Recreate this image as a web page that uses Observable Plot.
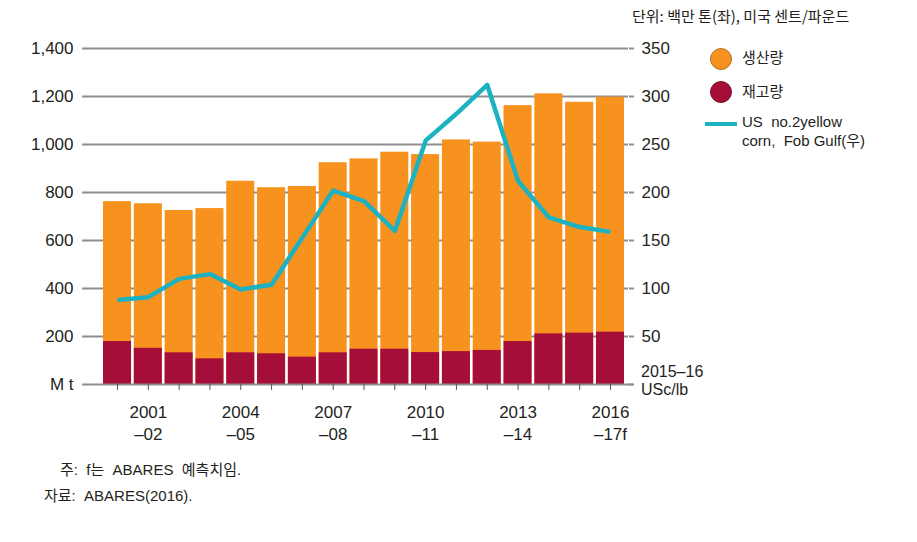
<!DOCTYPE html>
<html><head><meta charset="utf-8">
<script src="https://cdn.jsdelivr.net/npm/d3@7"></script>
<script src="https://cdn.jsdelivr.net/npm/@observablehq/plot@0.6"></script>
<style>
html,body{margin:0;padding:0;background:#fff;}
#root{position:relative;width:917px;height:542px;overflow:hidden;color:#231f20;
 font-family:"Liberation Sans","Noto Sans CJK KR",sans-serif;}
.t{position:absolute;white-space:nowrap;font-family:"Liberation Sans","Noto Sans CJK KR",sans-serif;font-size:14.5px;line-height:1;}
.k{font-family:"Noto Sans CJK KR","Liberation Sans",sans-serif;}
</style></head><body>
<div id="root"></div>
<script>
// ---- data ----
const years = ["2000-01","2001-02","2002-03","2003-04","2004-05","2005-06","2006-07","2007-08","2008-09","2009-10","2010-11","2011-12","2012-13","2013-14","2014-15","2015-16","2016-17f"];
const production = [762,753,725,733,847,820,825,924,940,968,958,1019,1010,1162,1211,1176,1197];
const stocks = [179,151,132,107,132,128,114,132,147,147,133,137,142,179,211,214,218];
const price = [88,91,110,115,99,104,153,202,191,160,254,282,312,212,174,164,159];
const xTickLabels = {"2001-02":"2001\n\u201302","2004-05":"2004\n\u201305","2007-08":"2007\n\u201308","2010-11":"2010\n\u201311","2013-14":"2013\n\u201314","2016-17f":"2016\n\u201317f"};
const leftTicks = [0,200,400,600,800,1000,1200,1400];
const rightTickLabels = ["","50","100","150","200","250","300","350"];
const rightUnitLines = ["2015\u201316","USc/lb"];
const legendItems = ["생산량","재고량","US  no.2yellow\ncorn,  Fob Gulf(우)"];

const orange = "#f7921e", red = "#a50e38", teal = "#1cb2c2", grid = "#8e8e8e";
const data = years.map((y,i)=>({year:y, production:production[i], stocks:stocks[i], price:price[i]}));
const ratio = 1400/350;

const chart = Plot.plot({
  width:917, height:542,
  marginLeft:82, marginRight:289, marginTop:48, marginBottom:158,
  style:{fontFamily:'"Liberation Sans",sans-serif', fontSize:"17px", color:"#231f20", background:"transparent"},
  x:{type:"band", domain:years, range:[103,624], paddingInner:0.09, paddingOuter:0, round:false},
  y:{domain:[0,1400]},
  marks:[
    Plot.gridY(leftTicks.slice(1), {stroke:grid, strokeOpacity:1, strokeWidth:2}),
    Plot.barY(data, {x:"year", y:"production", fill:orange}),
    Plot.barY(data, {x:"year", y:"stocks", fill:red}),
    Plot.line(data, {x:"year", y:d=>d.price*ratio, stroke:teal, strokeWidth:4.5, strokeLinejoin:"round", strokeLinecap:"butt"}),
    Plot.ruleY([0], {stroke:grid, strokeWidth:2, insetRight:-5}),
    Plot.axisY(leftTicks, {anchor:"left", label:null, tickSize:0, tickPadding:9, tickFormat:d=>d===0?"M t":d3.format(",")(d)}),
    Plot.axisY(leftTicks, {anchor:"right", label:null, tickSize:5, tickPadding:8, stroke:grid, strokeWidth:2, tickFormat:(d,i)=>rightTickLabels[i]}),
    Plot.axisX({label:null, tickSize:6, tickPadding:12, stroke:"#555", lineHeight:1.3, tickFormat:d=>xTickLabels[d]||""}),
  ]
});
const root = document.getElementById("root");
root.appendChild(chart);
chart.style.position="absolute"; chart.style.left="0"; chart.style.top="0";

function addText(txt,x,y,cls,extra){const d=document.createElement("div");d.className="t "+(cls||"");d.textContent=txt;d.style.left=x+"px";d.style.top=y+"px";if(extra)Object.assign(d.style,extra);root.appendChild(d);return d;}
addText("단위: 백만 톤(좌), 미국 센트/파운드",632,8,"k",{fontSize:"15px"});
addText(rightUnitLines[0],641,364,"",{fontSize:"16px"});
addText(rightUnitLines[1],641,382,"",{fontSize:"16px"});
// legend
const lg = document.createElementNS("http://www.w3.org/2000/svg","svg");
lg.setAttribute("width","40");lg.setAttribute("height","100");
Object.assign(lg.style,{position:"absolute",left:"700px",top:"40px"});
lg.innerHTML = `<circle cx="21" cy="19" r="10.5" fill="${orange}" stroke="#b0702a" stroke-width="1"/>
<circle cx="21" cy="52" r="10.5" fill="${red}" stroke="#7a0a2a" stroke-width="1"/>
<line x1="5" x2="37" y1="84" y2="84" stroke="${teal}" stroke-width="4"/>`;
root.appendChild(lg);
addText(legendItems[0],742,49,"k",{fontSize:"15px"});
addText(legendItems[1],742,83,"k",{fontSize:"15px"});
addText(legendItems[2],742,112,"",{fontSize:"15px",whiteSpace:"pre",lineHeight:"19px"});
// notes
addText("주:  f는  ABARES  예측치임.",60,462,"",{fontSize:"15px",whiteSpace:"pre"});
addText("자료:  ABARES(2016).",44,488,"",{fontSize:"15px",whiteSpace:"pre"});
</script>
</body></html>
